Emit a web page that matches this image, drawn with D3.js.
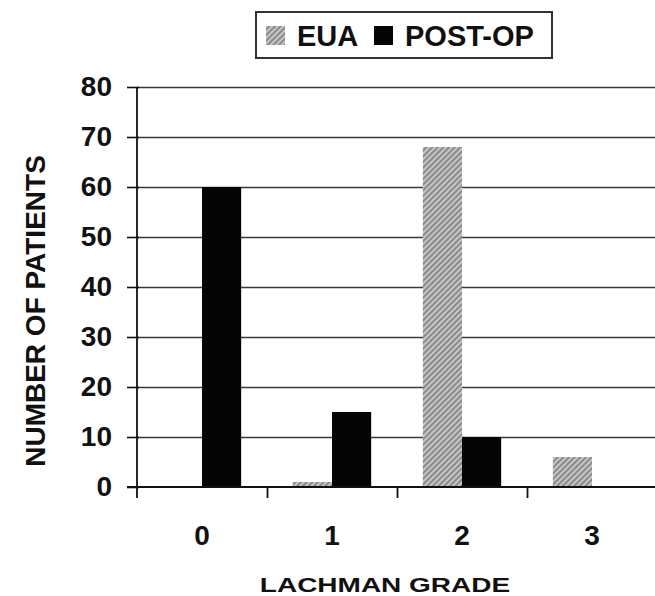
<!DOCTYPE html>
<html>
<head>
<meta charset="utf-8">
<script src="https://cdn.jsdelivr.net/npm/d3@7/dist/d3.min.js"></script>
<style>
  html, body { margin: 0; padding: 0; background: #fff; }
  svg { display: block; }
  text { font-family: "Liberation Sans", Arial, sans-serif; font-weight: bold; fill: #111; }
</style>
</head>
<body>
<script>
// ---- data ----
const categories = ["0", "1", "2", "3"];
const seriesNames = ["EUA", "POST-OP"];
const euaValues = [0, 1, 68, 6];
const postOpValues = [60, 15, 10, 0];
const yTickValues = [0, 10, 20, 30, 40, 50, 60, 70, 80];
const xTitle = "LACHMAN GRADE";
const yTitle = "NUMBER OF PATIENTS";

const W = 655, H = 596;
const svg = d3.select("body").append("svg").attr("width", W).attr("height", H);

// hatch pattern
const defs = svg.append("defs");
const pat = defs.append("pattern")
  .attr("id", "hatch").attr("patternUnits", "userSpaceOnUse")
  .attr("width", 4).attr("height", 4)
  .attr("patternTransform", "rotate(45)");
pat.append("rect").attr("width", 4).attr("height", 4).attr("fill", "#c6c6c6");
pat.append("rect").attr("width", 2).attr("height", 4).attr("fill", "#8a8a8a");

const plotLeft = 137, plotRight = 657, plotTop = 87, plotBottom = 487;

const y = d3.scaleLinear().domain([0, 80]).range([plotBottom, plotTop]);
const x0 = d3.scaleBand().domain(categories).range([plotLeft, plotRight]).padding(0);
const x1 = d3.scaleBand().domain(seriesNames).range([0, x0.bandwidth()])
  .paddingInner(0).paddingOuter(0.66);
const xb = d3.scaleLinear().domain([0, categories.length]).range([plotLeft, plotRight]);

const fills = { "EUA": "url(#hatch)", "POST-OP": "#050505" };

// gridlines
const grid = svg.append("g").attr("transform", `translate(${plotLeft},0)`)
  .call(d3.axisRight(y).tickValues(yTickValues.filter(v => v > 0)).tickSize(W - plotLeft).tickFormat(""));
grid.select(".domain").remove();
grid.selectAll("line").attr("stroke", "#3a3a3a").attr("stroke-width", 1.6);

// bars
const rows = categories.map((c, i) => ({ cat: c, vals: [
  { s: "EUA", v: euaValues[i] }, { s: "POST-OP", v: postOpValues[i] }] }));
svg.append("g").selectAll("g").data(rows).join("g")
  .attr("transform", d => `translate(${x0(d.cat)},0)`)
  .selectAll("rect").data(d => d.vals).join("rect")
  .attr("x", d => x1(d.s))
  .attr("width", x1.bandwidth())
  .attr("y", d => y(d.v))
  .attr("height", d => y(0) - y(d.v))
  .attr("fill", d => fills[d.s]);

// y axis
const yAxis = svg.append("g").attr("transform", `translate(${plotLeft},0)`)
  .call(d3.axisLeft(y).tickValues(yTickValues).tickSize(10).tickPadding(15));
yAxis.select(".domain").remove();
yAxis.selectAll("line").attr("stroke", "#111").attr("stroke-width", 1.6).attr("x2", -10).attr("x1", 2);
yAxis.selectAll("text").style("font-size", "28px").attr("fill", "#111");
svg.append("line").attr("x1", plotLeft).attr("x2", plotLeft)
  .attr("y1", plotTop).attr("y2", plotBottom + 11)
  .attr("stroke", "#111").attr("stroke-width", 1.8);

// x axis boundary ticks
const xTicks = svg.append("g").attr("transform", `translate(0,${plotBottom})`)
  .call(d3.axisBottom(xb).tickValues(d3.range(1, categories.length)).tickSize(11).tickFormat(""));
xTicks.select(".domain").remove();
xTicks.selectAll("line").attr("stroke", "#111").attr("stroke-width", 1.8);
svg.append("line").attr("x1", 127).attr("x2", W)
  .attr("y1", plotBottom).attr("y2", plotBottom)
  .attr("stroke", "#111").attr("stroke-width", 1.8);

// x labels
const xAxis = svg.append("g").attr("transform", `translate(0,${plotBottom})`)
  .call(d3.axisBottom(x0).tickSize(0).tickPadding(38));
xAxis.select(".domain").remove();
xAxis.selectAll("text").style("font-size", "28px").attr("fill", "#111");

// titles
svg.append("text")
  .attr("transform", "translate(385,592) scale(1,0.75)")
  .attr("text-anchor", "middle").style("font-size", "28px").text(xTitle);
svg.append("text")
  .attr("transform", "translate(45,311) rotate(-90)")
  .attr("text-anchor", "middle").style("font-size", "28px").text(yTitle);

// legend
const lg = svg.append("g");
lg.append("rect").attr("x", 256).attr("y", 12).attr("width", 296).attr("height", 46)
  .attr("fill", "#fff").attr("stroke", "#333").attr("stroke-width", 2);
const legendItems = [
  { s: "EUA", sx: 266, tx: 297 },
  { s: "POST-OP", sx: 374, tx: 405 }
];
legendItems.forEach(d => {
  lg.append("rect").attr("x", d.sx).attr("y", 26).attr("width", 19).attr("height", 19).attr("fill", fills[d.s]);
  lg.append("text").attr("x", d.tx).attr("y", 46).style("font-size", "29px").text(d.s);
});
</script>
</body>
</html>
